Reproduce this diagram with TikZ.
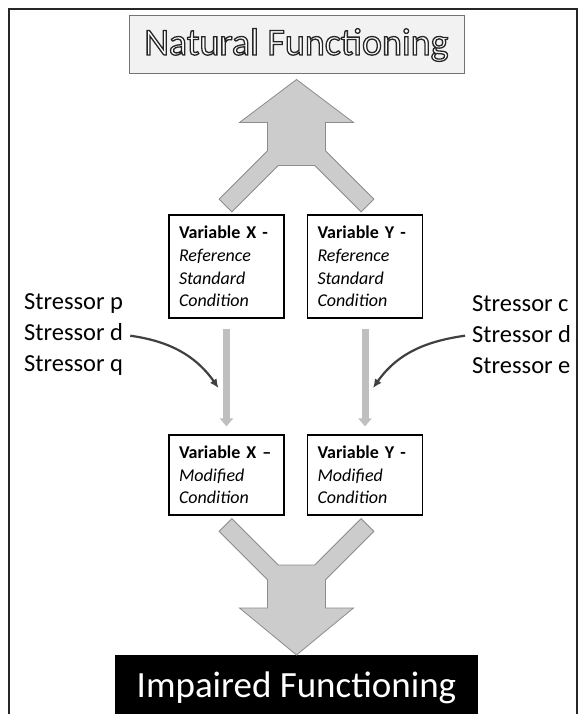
\documentclass[tikz,border=0pt]{standalone}
\usepackage{fontspec}
\setmainfont{Carlito}
\usetikzlibrary{calc,arrows.meta}
\newcommand{\outlined}[1]{\textcolor{white}{\special{pdf:literal direct 0.15 G 2 Tr 1.3 w}#1\special{pdf:literal direct 0 Tr 0 G 0.4 w}}}

\begin{document}
\begin{tikzpicture}[x=1pt,y=-1pt]
 \tikzset{box/.style={draw,line width=1.2pt,align=left,text width=95pt,inner xsep=10pt,inner ysep=0pt,font=\fontsize{18}{22.7}\selectfont},
  bigarrow/.style={fill=black!20,draw=black!45,line width=0.8pt},
  thinarrow/.style={line width=7pt,draw=black!25,-{Triangle[width=13pt,length=8pt]},shorten <=10pt,shorten >=8pt},
  bendarrow/.style={line width=2.2pt,draw=black!75,-{Latex[length=9pt,width=8pt]},shorten <=5pt},
  stress/.style={align=left,inner sep=2pt,font=\fontsize{24.5}{31}\selectfont}}
 \useasboundingbox (0,0) rectangle (587,714);
 \draw[line width=1.5pt,black!85] (9,9) rectangle (577,720);

 \node[draw=black!55,fill=black!5,line width=1pt,minimum width=335pt,minimum height=58pt,font=\fontsize{38}{40}\selectfont] (N) at (296.5,45) {\outlined{Natural Functioning}};
 \node[box,minimum height=103pt] (xref) at (226.5,266.5) {\textbf{Variable X -}\\ \textit{Reference}\\ \textit{Standard}\\ \textit{Condition}};
 \node[box,minimum height=103pt] (yref) at (365,266.5) {\textbf{Variable Y -}\\ \textit{Reference}\\ \textit{Standard}\\ \textit{Condition}};
 \node[box,minimum height=80pt] (xmod) at (226.5,475) {\mbox{\textbf{Variable X --}}\\ \textit{Modified}\\ \textit{Condition}};
 \node[box,minimum height=80pt] (ymod) at (365,475) {\textbf{Variable Y -}\\ \textit{Modified}\\ \textit{Condition}};
 \node[stress,anchor=west] (L) at (22,335) {Stressor p\\ Stressor d\\ Stressor q};
 \node[stress,anchor=west] (R) at (470,335) {Stressor c\\ Stressor d\\ Stressor e};
 \node[fill=black,text=white,minimum width=363pt,minimum height=66pt,anchor=north,font=\fontsize{37}{40}\selectfont] (I) at (296.5,655) {Impaired Functioning};

 \draw[bigarrow] ($(N.south)+(0,5)$) -- ++(57,43) -- ++(-28,0) -- ++(0,28.2) -- ++(48.4,48.4) -- ++(-12.8,12.8) -- ++(-46.4,-46.4) -- ++(-36.4,0) -- ++(-46.4,46.4) -- ++(-12.8,-12.8) -- ++(48.4,-48.4) -- ++(0,-28.2) -- ++(-28,0) -- cycle;
 \draw[bigarrow] (I.north) -- ++(57,-47) -- ++(-28,0) -- ++(0,-28.2) -- ++(48.4,-48.4) -- ++(-12.8,-12.8) -- ++(-46.4,46.4) -- ++(-36.4,0) -- ++(-46.4,-46.4) -- ++(-12.8,12.8) -- ++(48.4,48.4) -- ++(0,28.2) -- ++(-28,0) -- cycle;

 \draw[thinarrow] (xref) -- (xmod);
 \draw[thinarrow] (yref) -- (ymod);
 \coordinate (hL) at ($(xref.south)!0.6!(xmod.north)+(-8,0)$);
 \coordinate (hR) at ($(yref.south)!0.6!(ymod.north)+(8,0)$);
 \draw[bendarrow] (L.east) to[out=-8,in=125] (hL);
 \draw[bendarrow] (R.west) to[out=188,in=55] (hR);
\end{tikzpicture}
\end{document}
